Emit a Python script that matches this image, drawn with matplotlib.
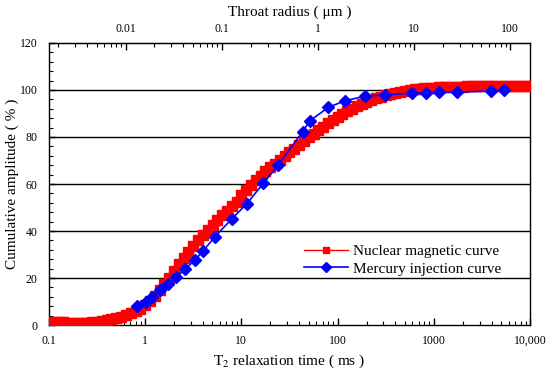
import numpy as np
import matplotlib
matplotlib.use("Agg")
import matplotlib.pyplot as plt
from matplotlib.ticker import FixedLocator, FuncFormatter, LogLocator, NullFormatter, MultipleLocator

plt.rcParams['font.family'] = ['Liberation Serif', 'DejaVu Serif']
plt.rcParams['mathtext.fontset'] = 'stix'

# NMR cumulative curve, instrument grid of 20 points per decade (0.1 .. 10000 ms)
nmr_t2 = np.logspace(-1, 4, 101)
nmr_amp = [
    1.2, 1.2, 1.1, 1.1, 1.0, 0.9, 0.8, 0.8, 0.9, 1.1,
    1.4, 1.7, 2.0, 2.4, 2.8, 3.4, 4.1, 4.9, 5.8, 7.0,
    8.5, 10.3, 12.4, 14.8, 17.4, 20.2, 23.1, 26.0, 28.7, 31.2,
    33.6, 36.0, 38.3, 40.5, 42.6, 44.7, 46.7, 48.7, 50.6, 52.5,
    55.5, 57.6, 59.7, 61.7, 63.6, 65.4, 67.1, 68.7, 70.3, 71.9,
    73.5, 75.1, 76.7, 78.3, 79.9, 81.4, 82.9, 84.4, 85.8, 87.2,
    88.5, 89.7, 90.9, 92.0, 93.0, 94.0, 94.9, 95.7, 96.5, 97.2,
    97.8, 98.4, 98.9, 99.3, 99.7, 100.0, 100.3, 100.5, 100.7, 100.9,
    101.0, 101.1, 101.2, 101.3, 101.3, 101.4, 101.4, 101.5, 101.5, 101.5,
    101.6, 101.6, 101.6, 101.6, 101.7, 101.7, 101.7, 101.7, 101.7, 101.7,
    101.7,
]

# Mercury injection curve (converted to T2)
hg_t2 = [0.817, 1.02, 1.17, 1.43, 1.74, 2.09, 2.59, 3.30, 4.02, 5.32, 7.93, 11.35,
         16.9, 24.2, 43.4, 51.6, 80, 119, 193, 311, 593, 830, 1132, 1742, 3937, 5370]
hg_amp = [8.1, 9.9, 12.0, 14.9, 17.4, 20.3, 23.7, 27.7, 31.6, 37.6, 45.1, 51.5,
          60.3, 68.1, 82.3, 86.9, 92.6, 95.4, 97.4, 97.9, 98.7, 98.7, 99.1, 99.1, 99.6, 100.0]

x_ticks = [0.1, 1, 10, 100, 1000, 10000]
x_ticklabels = ['0.1', '1', '10', '100', '1000', '10,000']
top_ticks = [0.01, 0.1, 1, 10, 100]
top_ticklabels = ['0.01', '0.1', '1', '10', '100']
y_ticks = [0, 20, 40, 60, 80, 100, 120]
C = 0.016  # radius (um) per ms

fig = plt.figure(figsize=(5.5, 3.69), dpi=100)
ax = fig.add_axes([0.089, 0.1192, 0.8746, 0.7643])

for yv in [20, 40, 60, 80, 100]:
    ax.axhline(yv, color='black', lw=1.0, zorder=1)

ax.plot(nmr_t2, nmr_amp, color='#ff0000', marker='s', ms=6.5, lw=1.0,
        label='Nuclear magnetic curve', zorder=3)
ax.plot(hg_t2, hg_amp, color='#0000ff', marker='D', ms=6.3, lw=1.2,
        label='Mercury injection curve', zorder=4)

ax.set_xscale('log')
ax.set_xlim(0.1, 10000)
ax.set_ylim(0, 120)
ax.xaxis.set_major_locator(FixedLocator(x_ticks))
ax.set_xticklabels(x_ticklabels)
ax.xaxis.set_minor_locator(LogLocator(base=10, subs=np.arange(2, 10)))
ax.xaxis.set_minor_formatter(NullFormatter())
ax.set_yticks(y_ticks)
ax.yaxis.set_minor_locator(MultipleLocator(4))

ax.tick_params(axis='both', which='both', direction='in', labelsize=8.5, colors='black')
ax.tick_params(axis='x', which='major', length=5, width=1, pad=7)
ax.tick_params(axis='x', which='minor', length=3, width=0.8)
ax.tick_params(axis='y', which='major', length=4, width=1, pad=8)
ax.tick_params(axis='y', which='minor', length=3, width=0.8)

for sp in ax.spines.values():
    sp.set_linewidth(1.0)
    sp.set_color('black')

ax.set_xlabel('T$_2$ relaxation time ( ms )', fontsize=11, labelpad=4)
ax.set_ylabel('Cumulative amplitude ( % )', fontsize=11, labelpad=1)

sec = ax.secondary_xaxis('top', functions=(lambda x: x * C, lambda x: x / C))
sec.xaxis.set_major_locator(FixedLocator(top_ticks))
sec.set_xticklabels(top_ticklabels)
sec.xaxis.set_minor_locator(LogLocator(base=10, subs=np.arange(2, 10)))
sec.xaxis.set_minor_formatter(NullFormatter())
sec.tick_params(axis='x', which='both', direction='in', labelsize=8.5)
sec.tick_params(axis='x', which='major', length=5, width=1, pad=6)
sec.tick_params(axis='x', which='minor', length=3, width=0.8)
sec.set_xlabel('Throat radius ( μm )', fontsize=11, labelpad=5)

leg = ax.legend(loc='lower right', bbox_to_anchor=(0.94, 0.175), frameon=False,
                fontsize=11, handlelength=2.9, handletextpad=0.3, labelspacing=0.25,
                borderaxespad=0, borderpad=0, markerscale=0.75)

fig.savefig('out.png', dpi=100)
